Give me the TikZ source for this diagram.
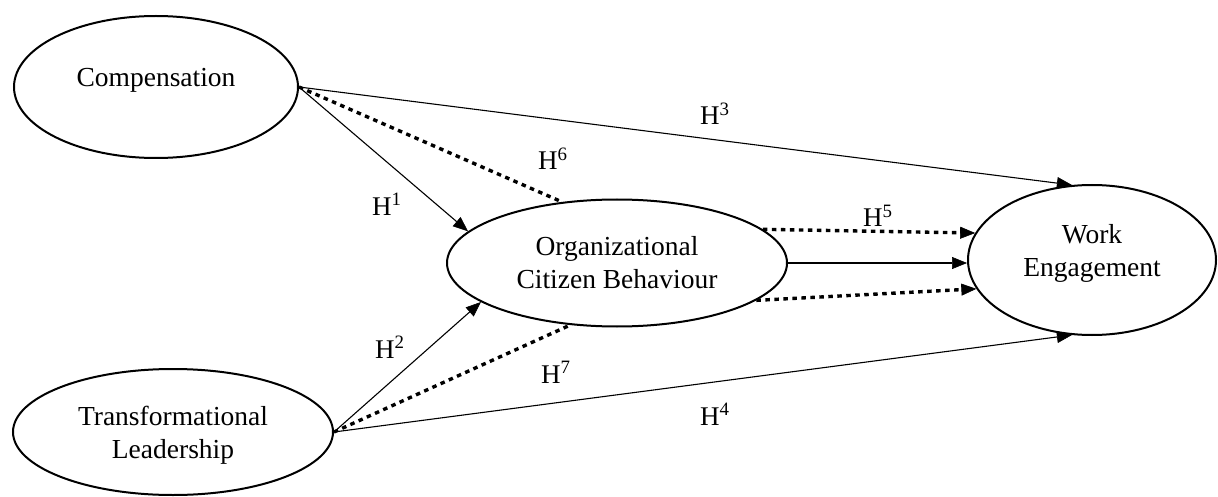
\documentclass[tikz,border=0pt]{standalone}
\usepackage{fontspec}
\setmainfont{Liberation Serif}
\usetikzlibrary{shapes.geometric,arrows.meta}
\begin{document}
\begin{tikzpicture}[x=1pt,y=-1pt,
  ell/.style={draw,ellipse,line width=2pt,inner sep=0pt},
  txt/.style={font=\fontsize{27.5}{33}\selectfont,align=center,inner sep=0pt},
  hyp/.style={font=\fontsize{27}{33}\selectfont,inner sep=0pt,anchor=base west},
  tip/.style={-{Triangle[length=15pt,width=12pt,line width=0.6pt]}},
  solidarrow/.style={line width=1.1pt,tip},
  dotline/.style={line width=3.4pt,dash pattern=on 4.5pt off 4.5pt},
  dotarrow/.style={dotline,tip}]
\useasboundingbox (0,0) rectangle (1218,497);

\node[ell,minimum width=284pt,minimum height=142pt] (comp) at (156,87) {};
\node[txt] (compt) at ([yshift=7pt]comp.center) {Compensation};
\node[ell,minimum width=320pt,minimum height=126pt] (tl) at (173,432) {};
\node[txt] (tlt) at ([yshift=-3pt]tl.center) {Transformational\\Leadership};
\node[ell,minimum width=340pt,minimum height=127pt] (ocb) at (617,263) {};
\node[txt] (ocbt) at (ocb.center) {Organizational\\Citizen Behaviour};
\node[ell,minimum width=248pt,minimum height=150pt] (we) at (1092,260) {};
\node[txt] (wet) at ([yshift=7pt]we.center) {Work\\Engagement};

% connectors
\draw[solidarrow] (comp.east) -- (ocb.168);
\draw[solidarrow] (tl.east) -- (ocb.196);
\draw[dotline] (comp.east) -- (ocb.132);
\draw[dotline] (tl.east) -- (ocb.233);
\draw[solidarrow] (comp.east) -- (we.105);
\draw[solidarrow] (tl.east) -- (we.255);
\draw[dotarrow] (ocb.13.8) -- (we.167.7);
\draw[solidarrow] (ocb.east) -- (ocb.east -| we.west);
\draw[dotarrow] (ocb.-15.3) -- (we.194.6);

% labels
\node[hyp] (h1) at (372,215) {H\textsuperscript{1}};
\node[hyp] (h2) at (375,358) {H\textsuperscript{2}};
\node[hyp] (h3) at (700,125) {H\textsuperscript{3}};
\node[hyp] (h4) at (700,425) {H\textsuperscript{4}};
\node[hyp] (h5) at (863,227) {H\textsuperscript{5}};
\node[hyp] (h6) at (538,170) {H\textsuperscript{6}};
\node[hyp] (h7) at (541,383) {H\textsuperscript{7}};
\end{tikzpicture}
\end{document}
